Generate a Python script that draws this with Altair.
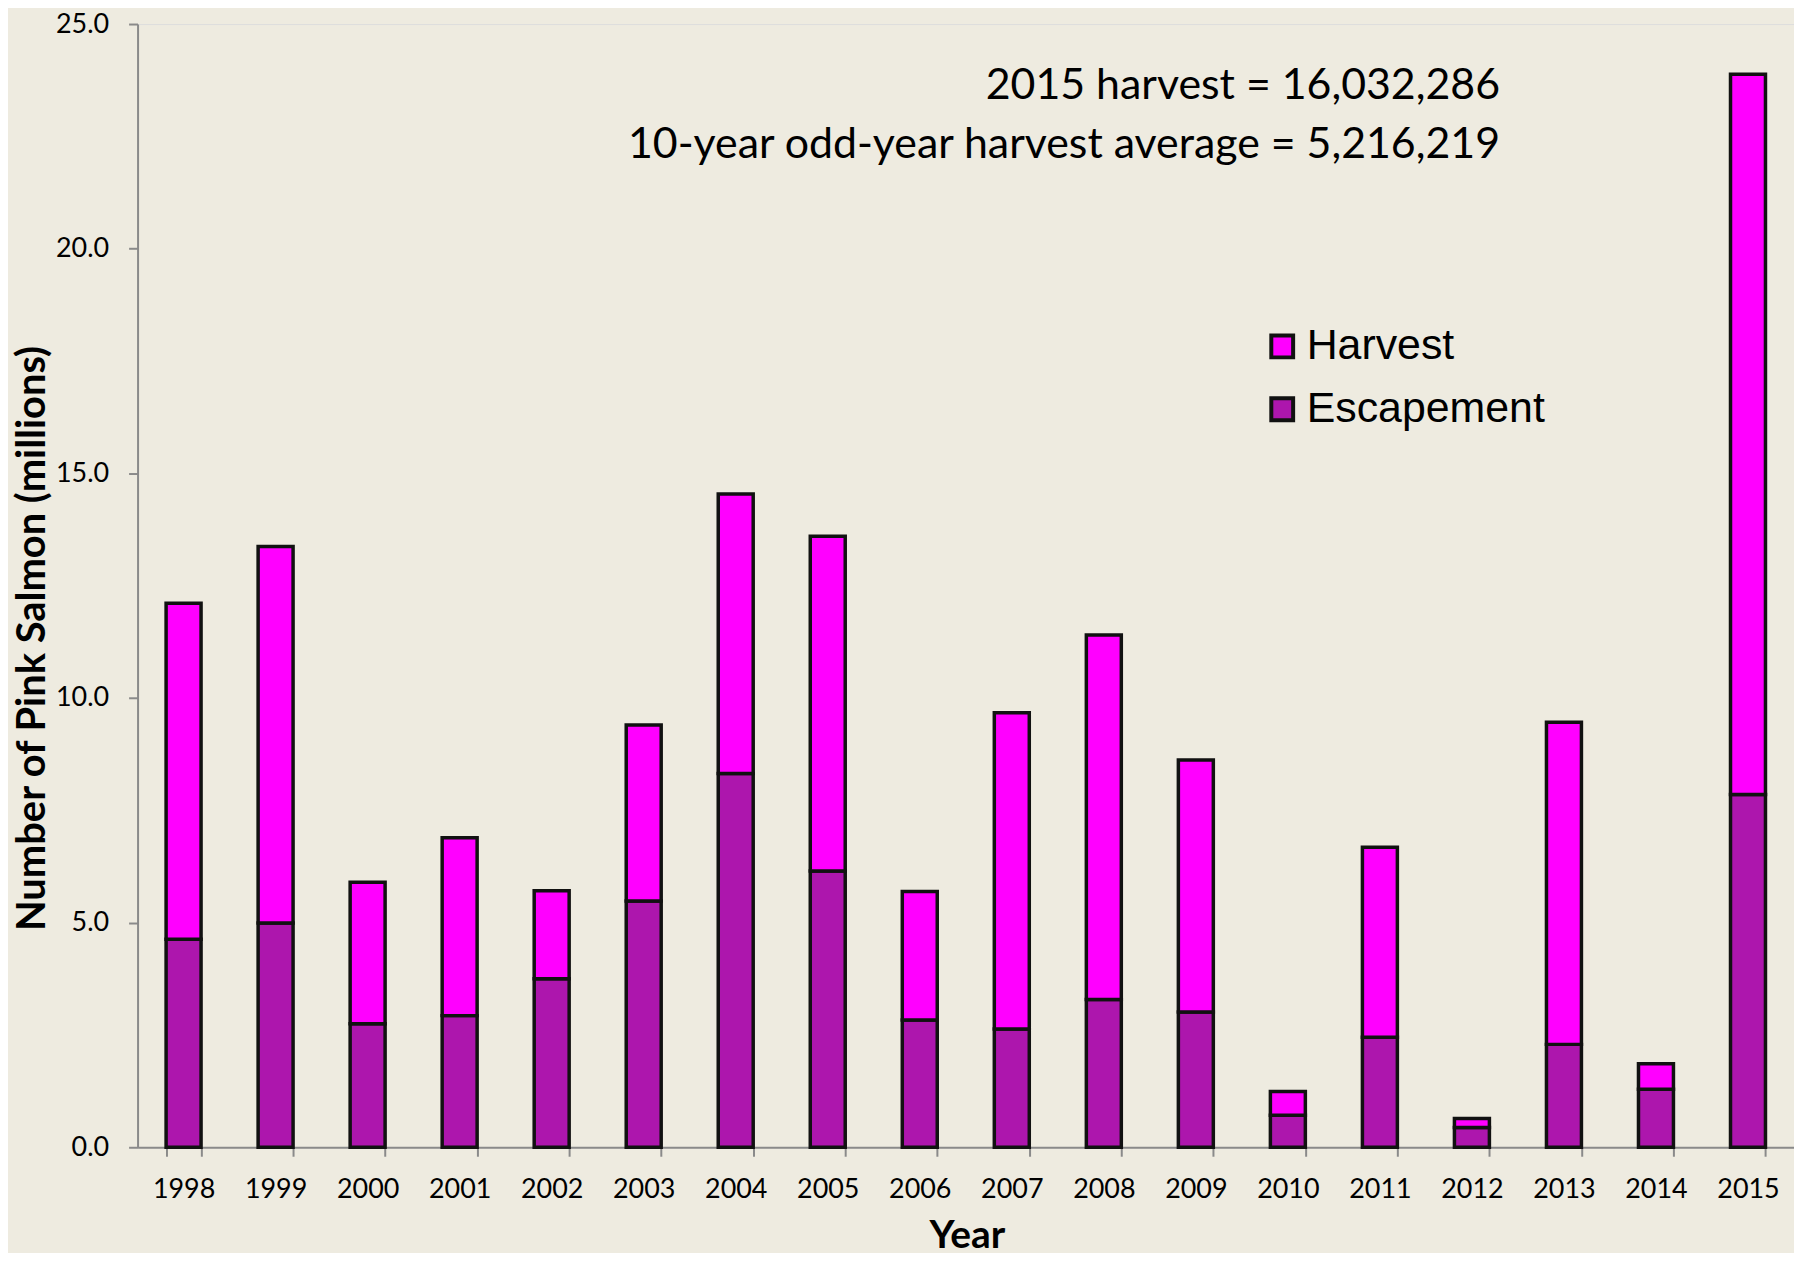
import altair as alt
import pandas as pd

years = ["1998", "1999", "2000", "2001", "2002", "2003", "2004", "2005", "2006",
         "2007", "2008", "2009", "2010", "2011", "2012", "2013", "2014", "2015"]
escapement = [4.63, 4.99, 2.75, 2.93, 3.75, 5.48, 8.32, 6.15, 2.83,
              2.63, 3.29, 3.01, 0.71, 2.45, 0.44, 2.29, 1.29, 7.85]
harvest = [7.48, 8.38, 3.15, 3.96, 1.96, 3.92, 6.22, 7.45, 2.86,
           7.04, 8.11, 5.61, 0.53, 4.23, 0.20, 7.17, 0.57, 16.03]
series = ["Harvest", "Escapement"]
colors = ["#FF00FF", "#AD16AD"]
y_ticks = [0, 5, 10, 15, 20, 25]
note_lines = ["2015 harvest = 16,032,286",
              "10-year odd-year harvest average = 5,216,219"]

rows = []
for yr, e, h in zip(years, escapement, harvest):
    rows.append({"Year": yr, "Series": "Escapement", "Value": e, "ord": 0})
    rows.append({"Year": yr, "Series": "Harvest", "Value": h, "ord": 1})
df = pd.DataFrame(rows)

W, H = 1662, 1127
AXIS_GRAY = "#8a8a8a"

bars = alt.Chart(df).mark_bar(stroke="#111111", strokeWidth=3.5).encode(
    x=alt.X("Year:N", sort=years,
            scale=alt.Scale(paddingInner=0.62, paddingOuter=0.31),
            axis=alt.Axis(title="Year", labelAngle=0, tickBand="extent",
                          domainColor=AXIS_GRAY, domainWidth=2,
                          tickColor=AXIS_GRAY, tickWidth=2, tickSize=9,
                          labelFont="Lato", labelFontSize=27, labelColor="black",
                          labelPadding=20,
                          titleFont="Lato", titleFontSize=39, titleFontWeight="bold",
                          titleColor="black", titleX=832, titleY=101,
                          titleAlign="center", titleBaseline="alphabetic")),
    y=alt.Y("Value:Q", stack="zero",
            scale=alt.Scale(domain=[0, 25], nice=False),
            axis=alt.Axis(title="Number of Pink Salmon (millions)",
                          values=y_ticks, format=".1f", grid=False,
                          domainColor=AXIS_GRAY, domainWidth=2,
                          tickColor=AXIS_GRAY, tickWidth=2, tickSize=9,
                          labelFont="Lato", labelFontSize=27, labelColor="black",
                          labelPadding=20,
                          titleFont="Lato", titleFontSize=40, titleFontWeight="bold",
                          titleColor="black", titleX=-93, titleY=616,
                          titleAngle=270, titleAlign="center",
                          titleBaseline="alphabetic")),
    fill=alt.Fill("Series:N",
                  scale=alt.Scale(domain=series, range=colors),
                  legend=alt.Legend(title=None, orient="none", legendX=1127, legendY=302,
                                    symbolType="square", symbolSize=480,
                                    symbolStrokeColor="#111111", symbolStrokeWidth=4,
                                    symbolOpacity=1, labelLimit=0,
                                    labelFont="Liberation Sans", labelFontSize=43,
                                    labelColor="black", labelOffset=3, rowPadding=19)),
    order=alt.Order("ord:Q"),
)

note1 = alt.Chart(pd.DataFrame({"t": [note_lines[0]]})).mark_text(
    font="Lato", fontSize=43, color="black", align="right", baseline="alphabetic"
).encode(text="t:N", x=alt.value(1367), y=alt.value(75))

note2 = alt.Chart(pd.DataFrame({"t": [note_lines[1]]})).mark_text(
    font="Lato", fontSize=43, color="black", align="right", baseline="alphabetic"
).encode(text="t:N", x=alt.value(1367), y=alt.value(134))

chart = alt.layer(bars, note1, note2).properties(
    width=W, height=H,
    padding={"left": 130, "top": 14, "right": 0, "bottom": 104},
    autosize="none",
    background="#EEEBE0",
).configure_view(stroke=None).configure(font="Lato")

chart.save("out.html", embed_options={"renderer": "svg", "actions": False})
